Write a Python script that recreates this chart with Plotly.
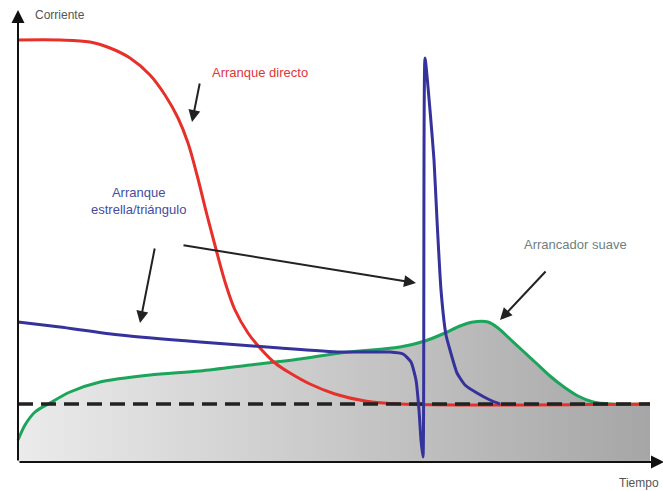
import plotly.graph_objects as go

# Schematic units: t = time, I = current (origin at the axes' corner)
red_t = [0, 42, 72, 92, 112, 132, 147, 160, 170, 179, 189, 199, 208, 217, 230, 242, 257, 272, 292, 317, 347, 382, 632]
red_i = [422, 422, 420, 414, 404, 387, 367, 344, 319, 287, 247, 209, 177, 152, 129, 114, 99, 89, 78, 68, 61, 58, 58]

blue_t = [0, 42, 102, 182, 262, 322, 372, 385, 393, 398, 401, 403, 405, 407, 412, 416, 419, 423, 428, 432, 439, 447, 459, 472, 482]
blue_i = [140, 135, 127, 120, 114, 110, 110, 108, 100, 82, 52, 22, 5, 404, 352, 302, 242, 172, 127, 112, 89, 77, 69, 62, 58]

green_t = [0, 7, 17, 32, 52, 82, 132, 182, 232, 282, 322, 382, 407, 427, 442, 455, 470, 480, 492, 505, 518, 532, 546, 560, 575, 592, 632]
green_i = [22, 37, 50, 59, 70, 80, 87, 91, 97, 103, 109, 115, 121, 129, 136, 140, 140, 134, 123, 111, 99, 86, 75, 66, 60, 58, 58]

nominal_t = [0, 632]
nominal_i = [58, 58]

labels = {
    "y": "Corriente",
    "x": "Tiempo",
    "direct": "Arranque directo",
    "stardelta": "Arranque<br>estrella/triángulo",
    "soft": "Arrancador suave",
}

fig = go.Figure()

# gray area under soft-starter curve with horizontal gradient
fig.add_trace(go.Scatter(
    x=green_t + [green_t[-1], green_t[0]], y=green_i + [0, 0],
    mode="lines", line=dict(width=0, shape="linear"), fill="toself",
    fillgradient=dict(type="horizontal", colorscale=[[0, "#ebebeb"], [1, "#a6a6a6"]]),
    hoverinfo="skip", showlegend=False))

fig.add_trace(go.Scatter(x=green_t, y=green_i, mode="lines",
                         line=dict(color="#1aa55a", width=3, shape="spline", smoothing=0.8),
                         showlegend=False))
fig.add_trace(go.Scatter(x=red_t, y=red_i, mode="lines",
                         line=dict(color="#e8302a", width=3, shape="spline", smoothing=1),
                         showlegend=False))
fig.add_trace(go.Scatter(x=nominal_t, y=nominal_i, mode="lines",
                         line=dict(color="#222222", width=3.5, dash="15px,8px"),
                         showlegend=False))
fig.add_trace(go.Scatter(x=blue_t, y=blue_i, mode="lines",
                         line=dict(color="#35329c", width=3, shape="spline", smoothing=0.5),
                         showlegend=False))

ann = []
# axes with arrowheads
for (x, y, ax, ay) in [(0, 452, 0, 0), (646, 0, 0, 0)]:
    ann.append(dict(x=x, y=y, ax=ax, ay=ay, xref="x", yref="y", axref="x", ayref="y",
                    text="", showarrow=True, arrowhead=2, arrowsize=1.3, arrowwidth=2,
                    arrowcolor="#111111"))
# pointer arrows
for (x, y, ax, ay) in [(174, 340, 182, 380), (122, 139, 137, 215), (398, 179, 164, 217), (482, 142, 529, 192)]:
    ann.append(dict(x=x, y=y, ax=ax, ay=ay, xref="x", yref="y", axref="x", ayref="y",
                    text="", showarrow=True, arrowhead=2, arrowsize=1.2, arrowwidth=2,
                    arrowcolor="#222222"))

font = "Liberation Sans, Arial, sans-serif"
ann += [
    dict(x=15, y=447, text=labels["y"], showarrow=False, xanchor="left", yanchor="middle",
         font=dict(family=font, size=12, color="#555555")),
    dict(x=643, y=-21, text=labels["x"], showarrow=False, xanchor="right", yanchor="middle",
         font=dict(family=font, size=12, color="#555555")),
    dict(x=192, y=390, text=labels["direct"], showarrow=False, xanchor="left", yanchor="middle",
         font=dict(family=font, size=13, color="#e0353a")),
    dict(x=120, y=261, text=labels["stardelta"], showarrow=False, xanchor="center", yanchor="middle",
         font=dict(family=font, size=13, color="#3f4ea0")),
    dict(x=557, y=218, text=labels["soft"], showarrow=False, xanchor="center", yanchor="middle",
         font=dict(family=font, size=13, color="#6f8080")),
]

fig.update_layout(
    width=663, height=491,
    margin=dict(l=0, r=0, t=0, b=0),
    paper_bgcolor="white", plot_bgcolor="white",
    xaxis=dict(range=[-18, 645], visible=False, fixedrange=True),
    yaxis=dict(range=[-29, 462], visible=False, fixedrange=True),
    annotations=ann,
    showlegend=False,
)

fig.write_html("out.html", config={"displayModeBar": False},
               post_script="document.body.style.margin='0';document.body.style.padding='0';document.body.style.overflow='hidden';")
